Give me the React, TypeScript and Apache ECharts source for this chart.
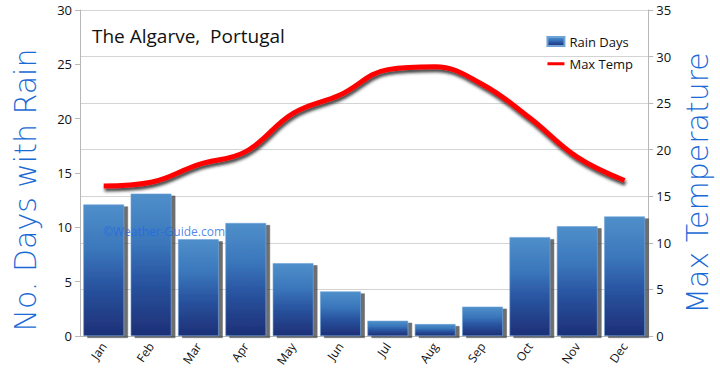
import React, { useEffect, useRef } from "react";
import * as echarts from "echarts";

const months = ["Jan", "Feb", "Mar", "Apr", "May", "Jun", "Jul", "Aug", "Sep", "Oct", "Nov", "Dec"];
const rainDays = [12.1, 13.1, 8.9, 10.4, 6.7, 4.1, 1.4, 1.1, 2.7, 9.1, 10.1, 11.0];
const maxTemp = [16.1, 16.5, 18.4, 19.8, 23.9, 25.9, 28.6, 28.9, 27.0, 23.4, 19.2, 16.7];
const rainAxis = { min: 0, max: 30, interval: 5 };
const tempAxis = { min: 0, max: 35, interval: 5 };
const titleText = "The Algarve,  Portugal";
const leftAxisName = "No. Days with Rain";
const rightAxisName = "Max Temperature";
const watermark = "©Weather-Guide.com";

const BLUE_TITLE = "#1a6ad6";
const AXIS_GRAY = "#b8b8b8";
const FONT = "'Open Sans', 'DejaVu Sans', sans-serif";
const NAME_FONT = "'DejaVu Sans', 'Open Sans', sans-serif";

export default function App() {
  const ref = useRef<HTMLDivElement>(null);
  useEffect(() => {
    if (!ref.current) return;
    const chart = echarts.init(ref.current, undefined, { renderer: "svg" });
    const barGradient = new echarts.graphic.LinearGradient(0, 0, 0, 1, [
      { offset: 0, color: "#4f8fca" },
      { offset: 0.35, color: "#3a76bb" },
      { offset: 0.6, color: "#2a56a2" },
      { offset: 1, color: "#1d2f76" },
    ]);
    chart.setOption({
      animation: false,
      backgroundColor: "#ffffff",
      textStyle: { fontFamily: FONT },
      title: {
        text: titleText,
        left: 87,
        top: 21,
        textStyle: { fontSize: 19, fontWeight: "normal", color: "#111", fontFamily: FONT },
      },
      legend: {
        orient: "vertical",
        right: 82,
        top: 30,
        itemGap: 9,
        itemWidth: 17,
        itemHeight: 9,
        textStyle: { fontSize: 13, color: "#111", fontFamily: FONT },
        data: [
          { name: "Rain Days", icon: "rect" },
          {
            name: "Max Temp",
            icon: "path://M0,0L0.01,0L0,0Z M0,9L0.01,9L0,9Z M20,0L20.01,0L20,0Z M0,3L20,3L20,6.5L0,6.5Z",
            itemStyle: { color: "#ff0000" },
          },
        ],
      },
      grid: { left: 80, right: 69, top: 10, bottom: 45 },
      xAxis: {
        type: "category",
        data: months,
        boundaryGap: true,
        axisLine: { lineStyle: { color: AXIS_GRAY } },
        axisTick: { length: 5, lineStyle: { color: AXIS_GRAY } },
        axisLabel: { rotate: 55, fontSize: 12, color: "#111", margin: 8, fontFamily: FONT },
      },
      yAxis: [
        {
          type: "value",
          position: "left",
          min: rainAxis.min,
          max: rainAxis.max,
          interval: rainAxis.interval,
          name: leftAxisName,
          nameLocation: "middle",
          nameRotate: 90,
          nameGap: 40,
          nameTextStyle: {
            fontSize: 30,
            fontWeight: 200,
            color: BLUE_TITLE,
            fontFamily: NAME_FONT,
            padding: [0, 34, 0, 0],
          },
          axisLine: { show: true, lineStyle: { color: AXIS_GRAY } },
          axisTick: { show: true, length: 5, lineStyle: { color: AXIS_GRAY } },
          axisLabel: { fontSize: 13, color: "#111", margin: 8, fontFamily: FONT },
          splitLine: { show: false },
        },
        {
          type: "value",
          position: "right",
          min: tempAxis.min,
          max: tempAxis.max,
          interval: tempAxis.interval,
          name: rightAxisName,
          nameLocation: "middle",
          nameRotate: 90,
          nameGap: 29,
          nameTextStyle: {
            fontSize: 30,
            fontWeight: 200,
            color: BLUE_TITLE,
            fontFamily: NAME_FONT,
            padding: [0, 20, 0, 0],
          },
          axisLine: { show: true, lineStyle: { color: AXIS_GRAY } },
          axisTick: { show: true, length: 5, lineStyle: { color: AXIS_GRAY } },
          axisLabel: { fontSize: 13, color: "#111", margin: 8, fontFamily: FONT },
          splitLine: { show: true, lineStyle: { color: "#d4d4d4", width: 1 } },
        },
      ],
      graphic: [
        {
          type: "text",
          left: 103,
          top: 225,
          z: 100,
          style: {
            text: watermark,
            fill: "rgba(35,105,225,0.8)",
            fontSize: 12,
            fontFamily: FONT,
          },
        },
      ],
      series: [
        {
          name: "Rain Days",
          type: "bar",
          yAxisIndex: 0,
          data: rainDays,
          barCategoryGap: "14%",
          itemStyle: {
            color: barGradient,
            borderColor: "#6fa3d8",
            borderWidth: 0.6,
            shadowColor: "rgba(60,60,60,0.75)",
            shadowOffsetX: 4,
            shadowOffsetY: 2,
            shadowBlur: 1,
          },
        },
        {
          name: "Max Temp",
          type: "line",
          yAxisIndex: 1,
          data: maxTemp,
          smooth: 0.4,
          symbol: "none",
          showSymbol: false,
          z: 5,
          lineStyle: {
            color: "#ff0000",
            width: 5,
            shadowColor: "rgba(40,40,40,0.85)",
            shadowOffsetX: 1,
            shadowOffsetY: 3,
            shadowBlur: 3,
          },
          itemStyle: { color: "#ff0000" },
        },
      ],
    });
    return () => chart.dispose();
  }, []);
  return (
    <div
      ref={ref}
      style={{ position: "fixed", left: 0, top: 0, width: 720, height: 381, background: "#fff" }}
    />
  );
}
